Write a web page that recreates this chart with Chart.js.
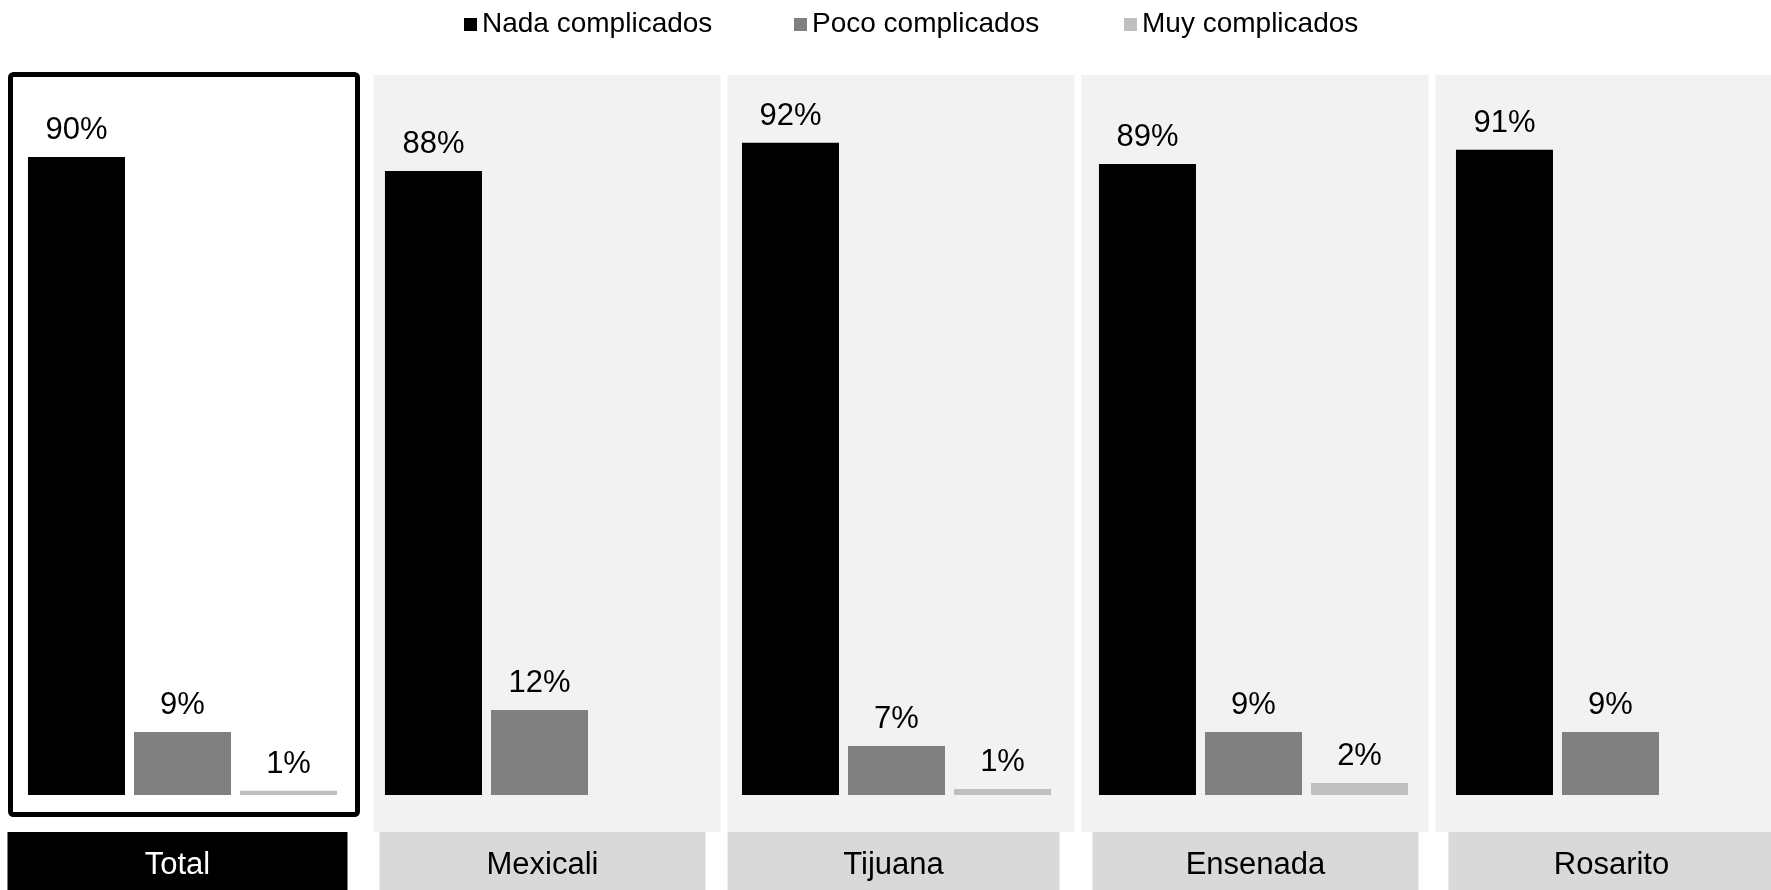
<!DOCTYPE html>
<html>
<head>
<meta charset="utf-8">
<script src="https://cdn.jsdelivr.net/npm/chart.js@4"></script>
<style>
  html, body { margin: 0; padding: 0; background: #fff; overflow: hidden; width: 1771px; height: 890px; }
  #wrap { position: relative; width: 1771px; height: 890px; }
  #chart { position: absolute; left: 0; top: 0; }
  .leg { position: absolute; top: 6px; font: 28px "Liberation Sans", Arial, sans-serif; color: #000; white-space: nowrap; line-height: 34px; }
  .leg i { display: inline-block; width: 13px; height: 13px; margin-right: 5px; vertical-align: 1px; }
</style>
</head>
<body>
<div id="wrap">
  <canvas id="chart" width="1800" height="890"></canvas>
  <div id="legend"></div>
</div>
<script>
const categories = ['Total', 'Mexicali', 'Tijuana', 'Ensenada', 'Rosarito'];
const seriesNames = ['Nada complicados', 'Poco complicados', 'Muy complicados'];
const seriesColors = ['#000000', '#808080', '#bfbfbf'];
// alturas
const nada = [90, 88, 92, 89, 91];
const poco = [8.9, 12, 6.9, 8.9, 8.9];
const muy = [0.6, null, 0.85, 1.7, null];
// etiquetas tal como aparecen
const nadaLabels = ['90%', '88%', '92%', '89%', '91%'];
const pocoLabels = ['9%', '12%', '7%', '9%', '9%'];
const muyLabels = ['1%', '', '1%', '2%', ''];
const legendX = [464, 794, 1124];

const FONT = '"Liberation Sans", Arial, sans-serif';
// desplazamiento de las cajas de categoría respecto al centro del grupo [izq, ancho]
const boxOffsets = [[-175, 340], [-160, 326], [-169, 332], [-161, 326], [-162, 326]];

function buildLegend() {
    const el = document.getElementById('legend');
    el.innerHTML = seriesNames.map((name, i) =>
        `<div class="leg" style="left:${legendX[i]}px"><i style="background:${seriesColors[i]}"></i>${name}</div>`
    ).join('');
}

// paneles de fondo, recuadro del total y cajas de categoría
const panelPlugin = {
    id: 'panels',
    beforeDatasetsDraw(chart) {
        const ctx = chart.ctx;
        const x = chart.scales.x;
        ctx.save();
        categories.forEach((cat, i) => {
            const c = x.getPixelForValue(i);
            const [bl, bw] = boxOffsets[i];
            if (i === 0) {
                ctx.lineWidth = 5;
                ctx.strokeStyle = '#000';
                ctx.beginPath();
                ctx.roundRect(c - 172, 74.5, 347, 740, 3);
                ctx.stroke();
                ctx.fillStyle = '#000';
            } else {
                ctx.fillStyle = '#f2f2f2';
                ctx.fillRect(c - 166 - 3 * (i - 1), 75, 347, 757);
                ctx.fillStyle = '#d9d9d9';
            }
            ctx.fillRect(c + bl, 832, bw, 58);
            ctx.fillStyle = i === 0 ? '#fff' : '#000';
            ctx.font = '31px ' + FONT;
            ctx.textAlign = 'center';
            ctx.textBaseline = 'middle';
            ctx.fillText(cat, c + bl + bw / 2, 865);
        });
        ctx.restore();
    },
    afterDatasetsDraw(chart) {
        const ctx = chart.ctx;
        const labelSets = [nadaLabels, pocoLabels, muyLabels];
        ctx.save();
        ctx.fillStyle = '#000';
        ctx.font = '31px ' + FONT;
        ctx.textAlign = 'center';
        ctx.textBaseline = 'alphabetic';
        chart.data.datasets.forEach((ds, d) => {
            chart.getDatasetMeta(d).data.forEach((bar, i) => {
                if (ds.data[i] == null) return;
                ctx.fillText(labelSets[d][i], bar.x, bar.y - 18);
            });
        });
        ctx.restore();
    }
};

function renderChart() {
    new Chart(document.getElementById('chart'), {
        type: 'bar',
        data: {
            labels: categories,
            datasets: [nada, poco, muy].map((vals, i) => ({
                label: seriesNames[i],
                data: vals,
                backgroundColor: seriesColors[i],
                borderWidth: 0,
                barPercentage: 0.915,
                categoryPercentage: 0.891
            }))
        },
        options: {
            responsive: false,
            devicePixelRatio: 1,
            animation: false,
            layout: { padding: { left: 4, right: 11, top: 86, bottom: 95 } },
            plugins: { legend: { display: false }, tooltip: { enabled: false } },
            scales: {
                x: { display: false },
                y: { display: false, min: 0, max: 100 }
            }
        },
        plugins: [panelPlugin]
    });
}

buildLegend();
renderChart();
</script>
</body>
</html>
